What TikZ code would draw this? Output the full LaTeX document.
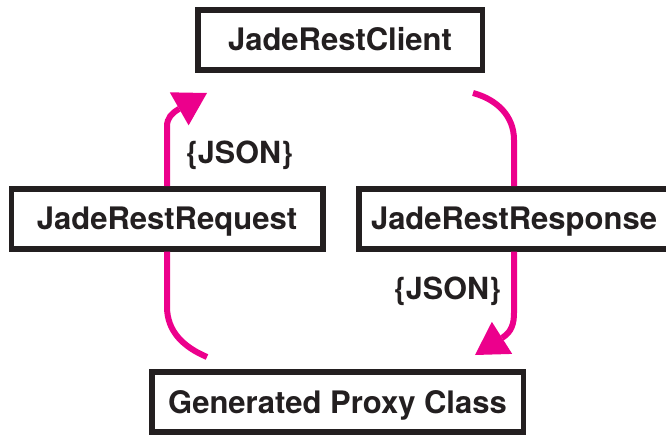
\documentclass[tikz,border=0pt]{standalone}
\usepackage{fontspec}
\setmainfont{TeX Gyre Heros}
\usetikzlibrary{arrows.meta}
\definecolor{jadepink}{HTML}{EC008C}
\definecolor{jadeink}{HTML}{231F20}

\begin{document}
\begin{tikzpicture}[x=1pt,y=1pt,
    box/.style={draw=jadeink, line width=5.5pt, text=jadeink, inner sep=0pt,
        minimum height=60pt, text height=22pt, text depth=0pt,
        font=\fontsize{31}{37}\selectfont\bfseries},
    json/.style={text=jadeink, inner sep=0pt, text height=22pt, text depth=0pt,
        font=\fontsize{30.5}{36}\selectfont\bfseries},
    flow/.style={draw=jadepink, line width=6pt},
    flowtip/.style={flow, -{Triangle[length=32pt,width=38pt,line width=0pt]}}]
    \useasboundingbox (0,0) rectangle (666,434);

    \node[box, minimum width=284.5pt] (client) at (340,394) {JadeRestClient};
    \node[box, minimum width=311.5pt] (request) at (167,215) {JadeRestRequest};
    \node[box, minimum width=310.5pt] (response) at (514,215) {JadeRestResponse};
    \node[box, minimum width=371.5pt] (proxy) at (337.5,32) {Generated Proxy Class};

    \coordinate (proxyout) at (207,77);
    \coordinate (clientin) at (207,341);
    \coordinate (clientout) at (473,341);
    \coordinate (proxyin) at (475,79);

    % proxy -> request -> client
    \draw[flow] (request.south) -- ++(0,-55) to[out=-90,in=157] (proxyout);
    \draw[flowtip] (request.north) -- ++(0,60) to[out=90,in=211] ++(11.5,17) -- (clientin);
    \node[json] (reqjson) at (239.5,281.5) {\{JSON\}};

    % client -> response -> proxy
    \draw[flow] (clientout) to[out=-15,in=90] ++(41,-47) -- (response.north);
    \draw[flowtip] (response.south) -- ++(0,-61) to[out=-90,in=33] ++(-11,-24.5) -- (proxyin);
    \node[json] (respjson) at (447.5,146) {\{JSON\}};
\end{tikzpicture}
\end{document}
